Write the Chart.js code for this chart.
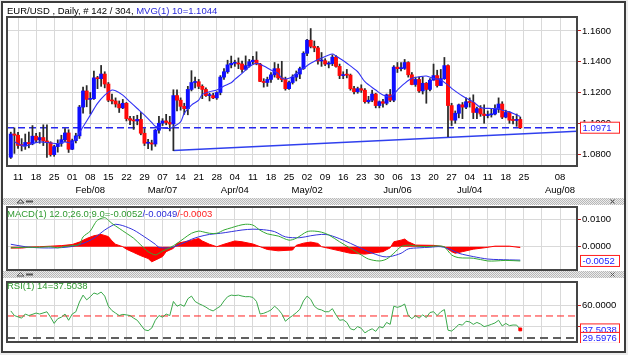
<!DOCTYPE html>
<html><head><meta charset="utf-8">
<script src="https://cdn.jsdelivr.net/npm/chart.js@4.4.1/dist/chart.umd.min.js"></script>
<style>
html,body{margin:0;padding:0;background:#fff;}
#wrap{position:relative;width:628px;height:355px;overflow:hidden;font-family:"Liberation Sans",Arial,sans-serif;}
canvas{position:absolute;left:0;}
.t{position:absolute;font-size:9.5px;white-space:nowrap;line-height:10px;}
</style></head><body>
<div id="wrap">
<canvas id="bg" width="628" height="355" style="top:0"></canvas>
<canvas id="cMain" width="628" height="200" style="top:0"></canvas>
<canvas id="cMacd" width="628" height="67" style="top:205px"></canvas>
<canvas id="cRsi" width="628" height="70" style="top:277px"></canvas>
<div class="t" style="left:7px;top:6px"><span style="color:#000">EUR/USD , Daily, # 142 / 304, </span><span style="color:#2b2bd9">MVG(1) 10=1.1044</span></div>
<div class="t" style="left:7px;top:209px"><span style="color:#2f9a2f">MACD(1) 12.0;26.0;9.0=-0.0052</span><span style="color:#2b2bd9">/-0.0049</span><span style="color:#ff2020">/-0.0003</span></div>
<div class="t" style="left:7px;top:281px"><span style="color:#2f9a2f">RSI(1) 14=37.5038</span></div>
</div>
<script>
// ---------- DATA (trading-day index 0 = 2016-01-07) ----------
const open  = [1.0779,1.0930,1.0922,1.0856,1.0855,1.0875,1.0866,1.0916,1.0891,1.0907,1.0885,1.0874,1.0796,1.0848,1.0869,1.0893,1.0937,1.0831,1.0887,1.0918,
1.1105,1.1210,1.1155,1.1160,1.1295,1.1290,1.1320,1.1255,1.1150,1.1145,1.1125,1.1100,1.1130,1.1030,1.1020,1.1015,1.1025,1.0935,1.0870,1.0872,
1.0865,1.0955,1.1000,1.1015,1.1005,1.0995,1.1180,1.1150,1.1110,1.1095,1.1220,1.1265,1.1270,1.1240,1.1220,1.1180,1.1180,1.1165,1.1200,1.1300,
1.1335,1.1380,1.1390,1.1392,1.1385,1.1350,1.1375,1.1400,1.1410,1.1385,1.1272,1.1265,1.1285,1.1315,1.1355,1.1295,1.1285,1.1225,1.1265,1.1300,
1.1320,1.1355,1.1455,1.1540,1.1500,1.1490,1.1405,1.1407,1.1385,1.1388,1.1430,1.1370,1.1310,1.1315,1.1313,1.1225,1.1205,1.1225,1.1215,1.1140,
1.1150,1.1190,1.1115,1.1140,1.1130,1.1185,1.1150,1.1365,1.1355,1.1357,1.1395,1.1315,1.1252,1.1285,1.1210,1.1260,1.1220,1.1280,1.1310,1.1245,
1.1290,1.1375,1.1115,1.1020,1.1065,1.1120,1.1105,1.1140,1.1135,1.1070,1.1095,1.1060,1.1050,1.1055,1.1060,1.1090,1.1125,1.1040,1.1070,1.1020,
1.1018,1.1025];
const high  = [1.0942,1.0970,1.0941,1.0900,1.0930,1.0943,1.0985,1.0934,1.0940,1.0990,1.0990,1.0880,1.0857,1.0892,1.0922,1.0965,1.0958,1.0897,1.0935,1.1116,
1.1236,1.1245,1.1200,1.1340,1.1305,1.1376,1.1335,1.1265,1.1190,1.1165,1.1145,1.1155,1.1135,1.1045,1.1045,1.1052,1.1070,1.0965,1.0895,1.0890,
1.0960,1.1045,1.1030,1.1058,1.1045,1.1218,1.1217,1.1165,1.1130,1.1240,1.1342,1.1300,1.1285,1.1250,1.1230,1.1195,1.1195,1.1205,1.1310,1.1355,
1.1410,1.1437,1.1410,1.1425,1.1405,1.1438,1.1415,1.1435,1.1465,1.1390,1.1290,1.1300,1.1330,1.1395,1.1385,1.1403,1.1300,1.1275,1.1315,1.1340,
1.1365,1.1465,1.1545,1.1616,1.1535,1.1500,1.1460,1.1420,1.1400,1.1445,1.1440,1.1385,1.1335,1.1350,1.1320,1.1240,1.1235,1.1250,1.1225,1.1175,
1.1215,1.1195,1.1145,1.1155,1.1190,1.1220,1.1375,1.1395,1.1395,1.1415,1.1400,1.1330,1.1300,1.1300,1.1300,1.1265,1.1290,1.1385,1.1345,1.1350,
1.1428,1.1380,1.1130,1.1080,1.1125,1.1135,1.1165,1.1165,1.1185,1.1105,1.1115,1.1120,1.1080,1.1095,1.1120,1.1165,1.1140,1.1085,1.1075,1.1045,
1.1060,1.1040];
const low   = [1.0771,1.0804,1.0837,1.0820,1.0830,1.0840,1.0860,1.0874,1.0870,1.0855,1.0778,1.0786,1.0785,1.0812,1.0850,1.0880,1.0810,1.0828,1.0872,1.0901,
1.1065,1.1107,1.1060,1.1155,1.1225,1.1240,1.1230,1.1140,1.1125,1.1105,1.1070,1.1095,1.1015,1.0990,1.0960,1.0990,1.0925,1.0855,1.0835,1.0825,
1.0850,1.0935,1.0985,1.0990,1.0950,1.0822,1.1080,1.1085,1.1058,1.1055,1.1210,1.1230,1.1225,1.1160,1.1175,1.1145,1.1160,1.1155,1.1185,1.1285,
1.1325,1.1360,1.1370,1.1355,1.1330,1.1345,1.1365,1.1385,1.1380,1.1270,1.1235,1.1240,1.1265,1.1300,1.1285,1.1270,1.1215,1.1220,1.1255,1.1275,
1.1290,1.1350,1.1440,1.1490,1.1465,1.1385,1.1370,1.1375,1.1360,1.1375,1.1365,1.1290,1.1290,1.1295,1.1215,1.1190,1.1195,1.1200,1.1130,1.1130,
1.1140,1.1100,1.1100,1.1105,1.1120,1.1140,1.1140,1.1330,1.1340,1.1350,1.1300,1.1250,1.1240,1.1200,1.1190,1.1130,1.1210,1.1280,1.1235,1.1245,
1.1285,1.0912,1.0985,1.1000,1.1035,1.1030,1.1095,1.1105,1.1030,1.1030,1.1045,1.1000,1.1035,1.1040,1.1055,1.1070,1.1030,1.1035,1.1000,1.0995,
1.0980,1.0965];
const close = [1.0930,1.0922,1.0856,1.0855,1.0875,1.0866,1.0916,1.0891,1.0907,1.0885,1.0874,1.0796,1.0848,1.0869,1.0893,1.0937,1.0831,1.0887,1.0918,1.1105,
1.1210,1.1155,1.1160,1.1295,1.1290,1.1320,1.1255,1.1150,1.1145,1.1125,1.1100,1.1130,1.1030,1.1020,1.1015,1.1025,1.0935,1.0870,1.0872,1.0865,
1.0955,1.1000,1.1015,1.1005,1.0995,1.1180,1.1150,1.1110,1.1095,1.1220,1.1265,1.1270,1.1240,1.1220,1.1180,1.1180,1.1165,1.1200,1.1300,1.1335,
1.1380,1.1390,1.1392,1.1385,1.1350,1.1375,1.1400,1.1410,1.1385,1.1272,1.1265,1.1285,1.1315,1.1355,1.1295,1.1285,1.1225,1.1265,1.1300,1.1320,
1.1355,1.1455,1.1540,1.1500,1.1490,1.1405,1.1407,1.1385,1.1388,1.1430,1.1370,1.1310,1.1315,1.1313,1.1225,1.1205,1.1225,1.1215,1.1140,1.1150,
1.1190,1.1115,1.1140,1.1130,1.1185,1.1150,1.1365,1.1355,1.1357,1.1395,1.1315,1.1252,1.1285,1.1210,1.1260,1.1220,1.1280,1.1310,1.1245,1.1290,
1.1375,1.1115,1.1020,1.1065,1.1120,1.1105,1.1140,1.1135,1.1070,1.1095,1.1060,1.1050,1.1055,1.1060,1.1090,1.1125,1.1040,1.1070,1.1020,1.1018,
1.1025,1.0971];

// 10-period moving average
const maIdx = [1,3,4,6,8,11,13,15,17,18,20,22,24,26,28,29,31,33,35,37,39,40,42,44,45,47,48,50,52,53,55,57,59,61,62,64,66,68,70,72,74,75,77,79,81,83,86,89,90,93,96,98,101,103,105,107,109,111,113,115,117,119,121,122,125,128,130,133,135,136,138,140,141];
const maVal = [1.0879,1.0857,1.0851,1.0868,1.0879,1.0872,1.0868,1.0879,1.0872,1.0901,1.0977,1.1053,1.1129,1.1183,1.1216,1.1211,1.1183,1.1139,1.1096,1.1053,1.1005,1.0981,1.0970,1.0966,1.0977,1.1009,1.1064,1.1118,1.1150,1.1188,1.1205,1.1216,1.1242,1.1263,1.1285,1.1324,1.1367,1.1390,1.1372,1.1346,1.1324,1.1292,1.1292,1.1324,1.1357,1.1390,1.1424,1.1450,1.1437,1.1390,1.1335,1.1270,1.1216,1.1183,1.1172,1.1216,1.1259,1.1292,1.1302,1.1307,1.1292,1.1281,1.1248,1.1227,1.1177,1.1139,1.1103,1.1096,1.1096,1.1085,1.1074,1.1053,1.1044];

const lastPrice = 1.0971;
const trendIdx = [45, 156.7];
const trendVal = [1.0822, 1.0948];

// MACD(12,26,9)
const macdIdx = [0,4,8,11,13,15,17,19,20,22,23,24,26,27,28,30,32,34,36,38,40,41,42,44,46,48,50,52,53,55,57,59,61,63,65,67,69,71,74,77,79,82,84,86,88,91,94,97,99,102,104,106,108,110,112,115,118,120,122,124,128,132,134,137,141];
const macdVal = [-0.0004,-0.0002,-0.0002,0.0000,-0.0004,0.0001,0.0004,0.0009,0.0036,0.0057,0.0079,0.0097,0.0106,0.0097,0.0085,0.0067,0.0049,0.0031,0.0006,-0.0018,-0.0030,-0.0024,-0.0016,-0.0004,0.0012,0.0031,0.0049,0.0057,0.0055,0.0049,0.0049,0.0061,0.0069,0.0077,0.0082,0.0079,0.0060,0.0047,0.0039,0.0024,0.0031,0.0055,0.0057,0.0053,0.0043,0.0018,-0.0006,-0.0030,-0.0045,-0.0052,-0.0045,-0.0024,0.0000,0.0006,0.0003,0.0000,0.0003,-0.0001,-0.0030,-0.0040,-0.0042,-0.0052,-0.0052,-0.0050,-0.0052];
const sigIdx = [0,4,8,13,17,20,23,26,28,29,31,34,37,40,41,44,47,50,52,55,58,61,64,67,70,73,76,80,83,86,88,92,96,99,103,105,108,110,113,116,119,122,124,128,132,135,141];
const sigVal = [0.0009,0.0000,-0.0004,-0.0004,0.0001,0.0012,0.0031,0.0061,0.0077,0.0082,0.0077,0.0061,0.0036,0.0009,-0.0002,-0.0004,0.0009,0.0027,0.0036,0.0045,0.0049,0.0055,0.0061,0.0064,0.0062,0.0055,0.0036,0.0033,0.0040,0.0045,0.0043,0.0024,0.0000,-0.0018,-0.0036,-0.0036,-0.0024,-0.0008,-0.0004,-0.0002,0.0000,-0.0012,-0.0024,-0.0036,-0.0045,-0.0047,-0.0049];
const histIdx = [0,3,5,8,11,14,17,19,21,23,25,27,28,29,31,32,34,36,38,39,40,42,43,45,46,48,50,52,53,55,57,59,62,64,67,69,71,74,78,79,81,83,85,86,88,91,94,98,103,105,106,108,109,110,112,117,120,122,123,125,128,131,134,138,141];
const histVal = [-0.0005,-0.0005,-0.0002,0.0000,0.0002,0.0004,0.0008,0.0017,0.0030,0.0040,0.0045,0.0037,0.0021,0.0009,0.0000,-0.0009,-0.0021,-0.0033,-0.0043,-0.0055,-0.0049,-0.0036,-0.0018,-0.0006,0.0012,0.0018,0.0024,0.0030,0.0021,0.0009,0.0000,0.0009,0.0021,0.0018,0.0010,0.0000,-0.0010,-0.0015,-0.0012,0.0005,0.0013,0.0017,0.0012,0.0000,-0.0006,-0.0015,-0.0024,-0.0027,-0.0018,-0.0004,0.0018,0.0024,0.0028,0.0018,0.0006,0.0005,0.0000,-0.0018,-0.0024,-0.0018,-0.0009,-0.0004,0.0002,0.0002,-0.0003];
const macdLast = -0.0052;

// RSI(14)
const rsiIdx = [0,1,3,4,5,7,8,10,11,12,13,14,15,16,17,18,19,20,21,22,23,24,25,26,27,28,29,30,31,32,33,34,35,36,37,38,39,40,41,42,43,44,45,46,47,48,49,50,51,52,53,54,55,56,57,58,59,60,61,62,63,64,65,66,67,68,69,70,71,72,73,74,75,76,77,78,79,80,81,82,83,84,85,86,87,88,89,90,91,92,93,94,95,96,97,98,99,100,101,102,103,104,105,106,107,108,109,110,111,112,113,114,115,116,117,118,119,120,121,122,123,124,125,126,127,128,129,130,131,132,133,134,135,136,137,138,139,140,141];
const rsiVal = [54.7,50.4,48.0,51.8,50.4,52.7,51.8,53.9,48.9,43.1,47.5,48.9,51.8,46.0,51.8,53.9,63.0,69.4,65.0,67.9,71.4,70.2,72.3,68.5,59.1,55.0,52.7,50.4,51.5,51.0,50.4,48.0,46.0,41.6,37.2,36.3,38.7,46.0,50.4,48.9,51.8,50.4,63.5,59.1,60.6,59.0,66.0,68.5,63.5,61.5,60.0,58.2,56.0,54.7,57.0,59.1,64.0,67.9,69.4,69.0,69.4,68.5,67.9,68.0,67.3,63.5,51.8,52.5,53.9,55.5,59.1,56.2,52.0,45.1,48.0,50.4,53.0,56.2,64.0,68.5,65.5,59.1,56.5,55.6,53.9,54.0,56.8,51.0,46.0,46.5,44.0,38.1,37.0,40.1,38.5,34.3,36.5,38.1,35.7,40.1,39.0,44.0,42.2,59.1,58.0,59.1,61.1,50.4,47.5,50.4,48.0,51.0,48.5,53.2,54.0,50.4,53.9,56.0,36.8,36.0,38.7,42.2,41.5,45.1,44.5,42.2,44.0,42.5,40.1,41.0,42.2,43.5,46.0,40.7,43.1,41.0,41.6,41.5,37.5];
const rsiMid = 50;
const rsiLow = 29.5976;

// Axis ticks (Mondays)
const tickIdx = [2,7,12,17,22,27,32,37,42,47,52,57,62,67,72,77,82,87,92,97,102,107,112,117,122,127,132,137,142,147,152];
const dayLbl  = ["11","18","25","01","08","15","22","29","07","14","21","28","04","11","18","25","02","09","16","23","30","06","13","20","27","04","11","18","25","","08"];
const monthLbl= ["","","","","Feb/08","","","","Mar/07","","","","Apr/04","","","","May/02","","","","","Jun/06","","","","Jul/04","","","","","Aug/08"];
const priceTicks = [1.08,1.10,1.12,1.14,1.16];
const macdTicks = [0.0,0.01];
const rsiTicks = [40,60];

// visible ranges
const X_MIN = -1.05, X_MAX = 156.7;
const Y_MIN = 1.0722, Y_MAX = 1.1691;
const M_MIN = -0.0085, M_MAX = 0.0145;
const R_MIN = 25.8, R_MAX = 81.6;

// ---------- STYLE ----------
const FONT = '"Liberation Sans", Arial, sans-serif';
Chart.defaults.font.family = FONT;
Chart.defaults.font.size = 9.5;
Chart.defaults.color = '#000';
const UP = '#0f0fff', DOWN = '#ff0a0a', WICK = '#2a2a2a', GRID = '#d9d9d9';

// background, frame, separators
(function(){
  const c = document.getElementById('bg').getContext('2d');
  c.fillStyle = '#ececec'; c.fillRect(0,0,628,355);
  c.fillStyle = '#fff'; c.fillRect(2,2,623,350);
  const pc = document.createElement('canvas'); pc.width = 2; pc.height = 2;
  const p = pc.getContext('2d');
  p.fillStyle = '#ececec'; p.fillRect(0,0,2,2);
  p.fillStyle = '#b8b8b8'; p.fillRect(0,0,1,1); p.fillRect(1,1,1,1);
  c.fillStyle = c.createPattern(pc,'repeat');
  c.fillRect(3,198,621,7);
  c.fillRect(3,271,621,7);
  function icons(y){
    c.strokeStyle = '#555'; c.lineWidth = 1; c.fillStyle = '#555';
    c.beginPath(); c.moveTo(17,y+3.5); c.lineTo(20.5,y); c.lineTo(24,y+3.5); c.closePath(); c.stroke();
    c.fillRect(26,y+1,7,2);
    c.beginPath(); c.moveTo(610.5,y); c.lineTo(614.5,y+4); c.moveTo(614.5,y); c.lineTo(610.5,y+4); c.stroke();
  }
  icons(199.5); icons(272.5);
  c.strokeStyle = '#3c3c3c'; c.lineWidth = 2; c.strokeRect(2,2,623,350);
})();

const framePlugin = {
  id: 'frame',
  afterDraw(chart, args, opts) {
    const {ctx, chartArea: a} = chart;
    ctx.save();
    ctx.strokeStyle = '#454545'; ctx.lineWidth = 2;
    ctx.strokeRect(a.left, a.top, a.right - a.left, a.bottom - a.top);
    const boxes = (opts && opts.boxes) || [];
    const ys = chart.scales.y;
    ctx.beginPath(); ctx.rect(0, 0, chart.width, a.bottom + 1); ctx.clip();
    boxes.forEach(b => {
      const y = ys.getPixelForValue(b.value);
      ctx.fillStyle = '#fff'; ctx.fillRect(a.right + 3.5, y - 5.5, 39, 11);
      ctx.strokeStyle = '#ff2020'; ctx.lineWidth = 1; ctx.strokeRect(a.right + 3.5, y - 5.5, 39, 11);
      ctx.fillStyle = '#1a1aff'; ctx.font = '9.5px ' + FONT; ctx.textBaseline = 'middle'; ctx.textAlign = 'left';
      ctx.fillText(b.text, a.right + 5.5, y + 0.5);
    });
    ctx.restore();
  }
};

function zeroPad(s){ s.paddingLeft = 0; s.paddingRight = 0; s.paddingTop = 0; s.paddingBottom = 0; }

function xScale(h, show) {
  return {
    type: 'linear', min: X_MIN, max: X_MAX, offset: false,
    afterBuildTicks: s => { s.ticks = tickIdx.map(v => ({value: v})); },
    ticks: { display: show, autoSkip: false, maxRotation: 0, minRotation: 0, padding: 5,
      font: {size: 9.5, lineHeight: 1.35}, color: '#000',
      callback: (v, i) => monthLbl[i] ? [dayLbl[i], monthLbl[i]] : dayLbl[i] },
    grid: { color: GRID, lineWidth: 1, drawTicks: false, offset: false },
    border: { display: false },
    afterFit: s => { s.height = h; zeroPad(s); }
  };
}
function yScale(min, max, ticks, fmt) {
  return {
    position: 'right', min, max,
    afterBuildTicks: s => { s.ticks = ticks.map(v => ({value: v})); },
    ticks: { padding: 1, color: '#000', font: {size: 9.5}, callback: fmt },
    grid: { color: GRID, lineWidth: 1, drawTicks: true, tickLength: 4, tickColor: '#c02020' },
    border: { display: false },
    afterFit: s => { s.width = 51; zeroPad(s); }
  };
}
const common = {
  responsive: false, animation: false, events: [],
  plugins: { legend: {display: false}, tooltip: {enabled: false} }
};
const pts = (xs, ys) => xs.map((x, k) => ({x, y: ys[k]}));

// ---------- MAIN PRICE CHART ----------
new Chart(document.getElementById('cMain'), {
  type: 'line',
  data: { datasets: [
    { type: 'line', order: 0, data: pts(maIdx, maVal), borderColor: '#3030f5', borderWidth: 1.1, pointRadius: 0, tension: 0.3 },
    { type: 'bar', order: 1, grouped: false, barThickness: 3.3, minBarLength: 1,
      data: close.map((c, i) => ({x: i, y: [open[i], c]})),
      backgroundColor: close.map((c, i) => c >= open[i] ? UP : DOWN), borderWidth: 0 },
    { type: 'bar', order: 2, grouped: false, barThickness: 1.1,
      data: close.map((c, i) => ({x: i, y: [low[i], high[i]]})),
      backgroundColor: WICK, borderWidth: 0 },
    { type: 'line', order: 3, data: pts([X_MIN, X_MAX], [lastPrice, lastPrice]), borderColor: '#2626ee', borderWidth: 1.5, borderDash: [7, 4], pointRadius: 0 },
    { type: 'line', order: 3, data: pts(trendIdx, trendVal), borderColor: '#3040ee', borderWidth: 1.5, pointRadius: 0 }
  ]},
  options: { ...common,
    layout: { padding: {left: 7, top: 17, right: 0, bottom: 0} },
    scales: {
      x: xScale(34, true),
      y: yScale(Y_MIN, Y_MAX, priceTicks, v => Number(v).toFixed(4))
    },
    plugins: { ...common.plugins, frame: { boxes: [{value: lastPrice, text: lastPrice.toFixed(4)}] } }
  },
  plugins: [framePlugin]
});

// ---------- MACD ----------
new Chart(document.getElementById('cMacd'), {
  type: 'line',
  data: { datasets: [
    { order: 0, data: pts(macdIdx, macdVal), borderColor: '#33a833', borderWidth: 1, pointRadius: 0, tension: 0.3 },
    { order: 1, data: pts(sigIdx, sigVal), borderColor: '#3434dd', borderWidth: 1, pointRadius: 0, tension: 0.3 },
    { order: 2, data: pts(histIdx, histVal), borderColor: '#ff0000', backgroundColor: '#ff0000', borderWidth: 1, pointRadius: 0, fill: 'origin', tension: 0 }
  ]},
  options: { ...common,
    layout: { padding: {left: 7, top: 2, right: 0, bottom: 0} },
    scales: {
      x: xScale(2, false),
      y: yScale(M_MIN, M_MAX, macdTicks, v => Number(v).toFixed(4))
    },
    plugins: { ...common.plugins, frame: { boxes: [{value: macdLast, text: macdLast.toFixed(4)}] } }
  },
  plugins: [framePlugin]
});

// ---------- RSI ----------
new Chart(document.getElementById('cRsi'), {
  type: 'line',
  data: { datasets: [
    { order: 0, data: pts(rsiIdx, rsiVal), borderColor: '#3aa84a', borderWidth: 1, tension: 0,
      pointRadius: rsiIdx.map((_, k) => k === rsiIdx.length - 1 ? 2 : 0), pointStyle: 'rect',
      pointBackgroundColor: '#ff0000', pointBorderColor: '#ff0000' },
    { order: 1, data: pts([X_MIN, X_MAX], [rsiMid, rsiMid]), borderColor: '#ff2020', borderWidth: 1, borderDash: [7, 4], pointRadius: 0 },
    { order: 1, data: pts([X_MIN, X_MAX], [rsiLow, rsiLow]), borderColor: '#606060', borderWidth: 2, borderDash: [8, 5], pointRadius: 0 }
  ]},
  options: { ...common,
    layout: { padding: {left: 7, top: 2, right: 0, bottom: 0} },
    scales: {
      x: xScale(4, false),
      y: yScale(R_MIN, R_MAX, rsiTicks, v => v === 40 ? '' : Number(v).toFixed(4))
    },
    plugins: { ...common.plugins, frame: { boxes: [
      {value: 37.5038, text: '37.5038'},
      {value: rsiLow, text: rsiLow.toFixed(4)}
    ] } }
  },
  plugins: [framePlugin]
});
</script>
</body></html>
